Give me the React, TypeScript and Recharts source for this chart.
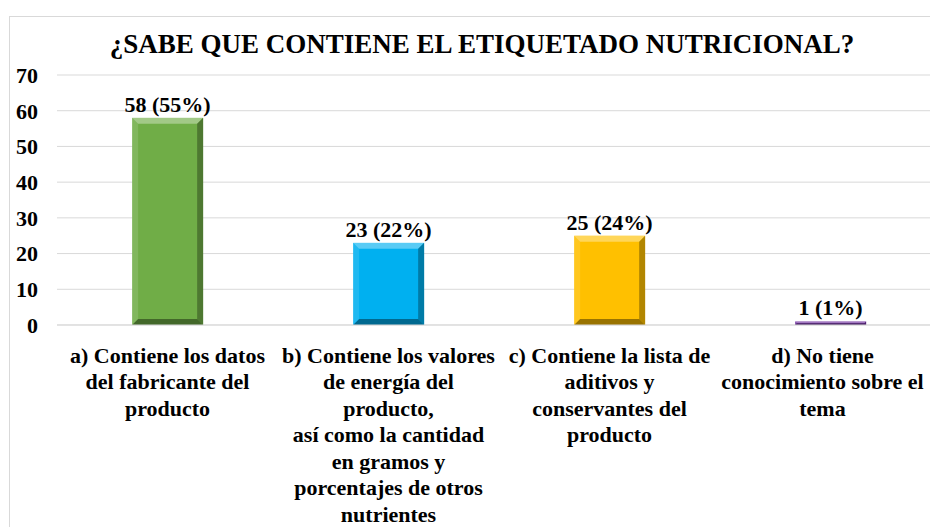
import React from "react";
import { BarChart, Bar, XAxis, YAxis, CartesianGrid, LabelList, Cell } from "recharts";

const categories = [
  "a) Contiene los datos\ndel fabricante del\nproducto",
  "b) Contiene los valores\nde energía del\nproducto,\nasí como la cantidad\nen gramos y\nporcentajes de otros\nnutrientes",
  "c) Contiene la lista de\naditivos y\nconservantes del\nproducto",
  "d) No tiene\nconocimiento sobre el\ntema",
];
const counts = [58, 23, 25, 1];
const percents = [55, 22, 24, 1];
const colors = ["#70AD47", "#00B0F0", "#FFC000", "#7030A0"];
const yTicks = [0, 10, 20, 30, 40, 50, 60, 70];
const title = "¿SABE QUE CONTIENE EL ETIQUETADO NUTRICIONAL?";

const data = categories.map((c, i) => ({
  name: c,
  value: counts[i],
  label: `${counts[i]} (${percents[i]}%)`,
}));

const FONT = '"Liberation Serif", "Times New Roman", serif';

const BevelBar = (props: any) => {
  const { x, y, width: w, height: h, fill } = props;
  if (!w || !h || h <= 0) return null;
  const b = Math.min(6, h / 2, w / 2);
  return (
    <g>
      <rect x={x} y={y} width={w} height={h} fill={fill} />
      <polygon
        points={`${x},${y} ${x + w},${y} ${x + w - b},${y + b} ${x + b},${y + b}`}
        fill="#ffffff"
        fillOpacity={0.35}
      />
      <polygon
        points={`${x},${y} ${x + b},${y + b} ${x + b},${y + h - b} ${x},${y + h}`}
        fill="#ffffff"
        fillOpacity={0.12}
      />
      <polygon
        points={`${x + w},${y} ${x + w},${y + h} ${x + w - b},${y + h - b} ${x + w - b},${y + b}`}
        fill="#000000"
        fillOpacity={0.3}
      />
      <polygon
        points={`${x},${y + h} ${x + w},${y + h} ${x + w - b},${y + h - b} ${x + b},${y + h - b}`}
        fill="#000000"
        fillOpacity={0.4}
      />
    </g>
  );
};

const CatTick = (props: any) => {
  const { x, y, payload, index } = props;
  const lines = String(payload.value).split("\n");
  // keep the last (right-most) label inside the chart area
  const cx = index === categories.length - 1 ? x - 8 : x;
  return (
    <text
      x={cx}
      y={y}
      textAnchor="middle"
      fontFamily={FONT}
      fontWeight="bold"
      fontSize={22}
      fill="#000"
    >
      {lines.map((l, i) => (
        <tspan key={i} x={cx} dy={i === 0 ? 29.5 : 26.5}>
          {l}
        </tspan>
      ))}
    </text>
  );
};

export default function App() {
  return (
    <div style={{ position: "relative", width: 930, height: 519, overflow: "hidden", background: "#fff" }}>
      <div
        style={{
          position: "absolute",
          left: 1,
          top: 8,
          width: 2000,
          height: 2000,
          borderLeft: "1px solid #d9d9d9",
          borderTop: "1px solid #d9d9d9",
        }}
      />
      <div
        style={{
          position: "absolute",
          left: 0,
          width: 948,
          top: 20,
          textAlign: "center",
          fontFamily: FONT,
          fontWeight: "bold",
          fontSize: 27,
          lineHeight: "32px",
          color: "#000",
          whiteSpace: "nowrap",
        }}
      >
        {title}
      </div>
      <div style={{ position: "absolute", left: 0, top: 0 }}>
        <BarChart
          width={930}
          height={519}
          data={data}
          margin={{ top: 67, right: -3, bottom: 0, left: 0 }}
          barCategoryGap="34%"
        >
          <CartesianGrid vertical={false} stroke="#d9d9d9" />
          <XAxis
            dataKey="name"
            interval={0}
            tickLine={false}
            axisLine={{ stroke: "#d9d9d9" }}
            height={202}
            tick={<CatTick />}
          />
          <YAxis
            width={49}
            domain={[0, 70]}
            ticks={yTicks}
            tickLine={false}
            axisLine={false}
            tickMargin={13}
            tick={{ fontFamily: FONT, fontWeight: "bold", fontSize: 22, fill: "#000" }}
          />
          <Bar dataKey="value" isAnimationActive={false} shape={<BevelBar />}>
            {data.map((d, i) => (
              <Cell key={i} fill={colors[i]} />
            ))}
            <LabelList
              dataKey="label"
              position="top"
              offset={6}
              fontFamily={FONT}
              fontWeight="bold"
              fontSize={22}
              fill="#000"
            />
          </Bar>
        </BarChart>
      </div>
    </div>
  );
}
